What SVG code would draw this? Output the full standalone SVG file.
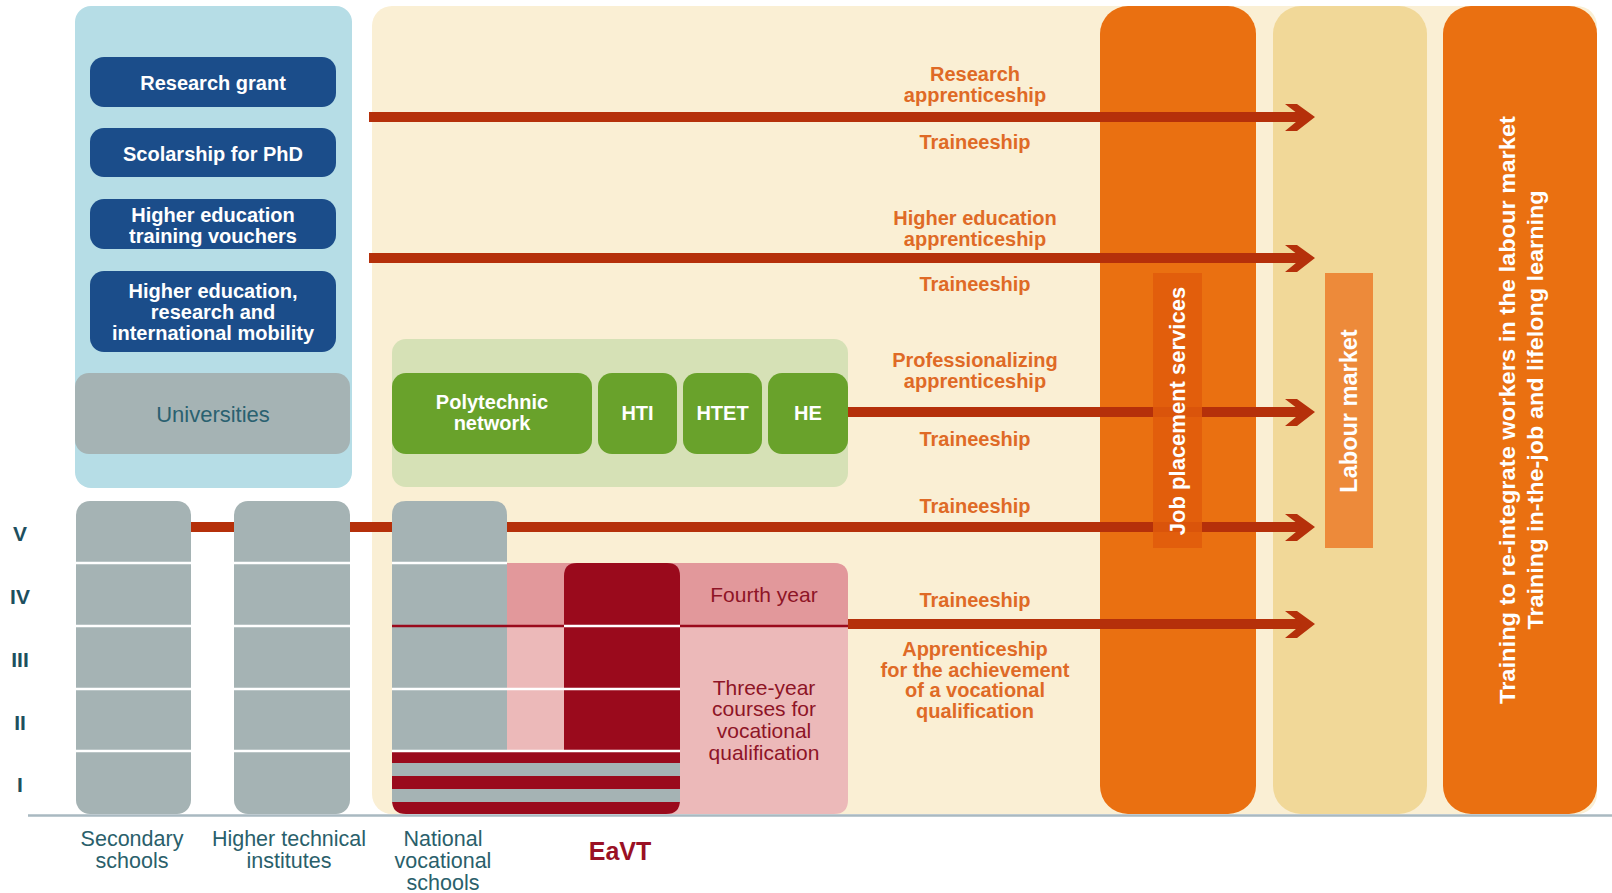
<svg xmlns="http://www.w3.org/2000/svg" width="1612" height="893" viewBox="0 0 1612 893">
<defs>
<style>
.wb{font-family:"Liberation Sans",Arial,sans-serif;font-weight:bold;fill:#ffffff;text-anchor:middle}
.lbl{font-family:"Liberation Sans",Arial,sans-serif;font-weight:bold;fill:#df6a26;font-size:20px;text-anchor:middle}
.col{font-family:"Liberation Sans",Arial,sans-serif;fill:#2a5f6b;font-size:21.5px;text-anchor:middle}
.row{font-family:"Liberation Sans",Arial,sans-serif;font-weight:bold;fill:#1d4f5e;font-size:21px;text-anchor:middle}
.gray{fill:#a5b3b4}
.blue{fill:#1b4d8a}
.green{fill:#69a22b}
.dred{fill:#9a0a1c}
.sep{stroke:#ffffff;stroke-width:2.5}
.arr{stroke:#b5300a;stroke-width:10;fill:none}
.head{fill:#b5300a}
</style>
</defs>
<rect width="1612" height="893" fill="#ffffff"/>

<!-- backgrounds -->
<g id="higher-ed-panel">
<rect x="75" y="6" width="277" height="482" rx="16" fill="#b6dde6"/>
</g>
<g id="vet-panel">
<rect x="372" y="6" width="1225" height="808" rx="20" fill="#faefd4"/>
</g>
<g id="job-placement-column">
<rect x="1100" y="6" width="156" height="808" rx="28" fill="#ea7011"/>
</g>
<g id="labour-market-column">
<rect x="1273" y="6" width="154" height="808" rx="28" fill="#f1d898"/>
</g>
<g id="lifelong-column">
<rect x="1443" y="6" width="154" height="808" rx="28" fill="#ea7011"/>
<text class="wb" font-size="22" transform="translate(1515,410) rotate(-90)" textLength="588" lengthAdjust="spacingAndGlyphs">Training to re-integrate workers in the labour market</text>
<text class="wb" font-size="22" transform="translate(1543,410) rotate(-90)" textLength="439" lengthAdjust="spacingAndGlyphs">Training in-the-job and lifelong learning</text>
</g>

<!-- connectors -->
<g id="connectors">
<line class="arr" x1="369" y1="117" x2="1303" y2="117"/>
<polygon class="head" points="1285,104 1297,104 1315,117 1297,131 1285,131 1302,117"/>
<line class="arr" x1="369" y1="258" x2="1303" y2="258"/>
<polygon class="head" points="1285,245 1297,245 1315,258 1297,272 1285,272 1302,258"/>
<line class="arr" x1="846" y1="412" x2="1303" y2="412"/>
<polygon class="head" points="1285,399 1297,399 1315,412 1297,426 1285,426 1302,412"/>
<line class="arr" x1="188" y1="527" x2="1303" y2="527"/>
<polygon class="head" points="1285,514 1297,514 1315,527 1297,541 1285,541 1302,527"/>
<line class="arr" x1="846" y1="624" x2="1303" y2="624"/>
<polygon class="head" points="1285,611 1297,611 1315,624 1297,638 1285,638 1302,624"/>
</g>

<!-- higher education boxes -->
<g id="research-grant">
<rect class="blue" x="90" y="57" width="246" height="50" rx="14"/>
<text class="wb" font-size="20" x="213" y="90">Research grant</text>
</g>
<g id="scholarship-phd">
<rect class="blue" x="90" y="128" width="246" height="49" rx="14"/>
<text class="wb" font-size="20" x="213" y="161">Scolarship for PhD</text>
</g>
<g id="he-vouchers">
<rect class="blue" x="90" y="199" width="246" height="50" rx="14"/>
<text class="wb" font-size="20" x="213" y="222">Higher education</text>
<text class="wb" font-size="20" x="213" y="243">training vouchers</text>
</g>
<g id="he-mobility">
<rect class="blue" x="90" y="271" width="246" height="81" rx="14"/>
<text class="wb" font-size="20" x="213" y="298">Higher education,</text>
<text class="wb" font-size="20" x="213" y="319">research and</text>
<text class="wb" font-size="20" x="213" y="340">international mobility</text>
</g>
<g id="universities">
<rect class="gray" x="75" y="373" width="275" height="81" rx="14"/>
<text x="213" y="422" font-family="'Liberation Sans',Arial,sans-serif" font-size="22" fill="#2a6170" text-anchor="middle">Universities</text>
</g>

<!-- polytechnic -->
<g id="tertiary-panel">
<rect x="392" y="339" width="456" height="148" rx="14" fill="#d6e1b6"/>
</g>
<g id="polytechnic-network">
<rect class="green" x="392" y="373" width="200" height="81" rx="14"/>
<text class="wb" font-size="20" x="492" y="409">Polytechnic</text>
<text class="wb" font-size="20" x="492" y="430">network</text>
</g>
<g id="hti">
<rect class="green" x="598" y="373" width="79" height="81" rx="14"/>
<text class="wb" font-size="20" x="637.5" y="420">HTI</text>
</g>
<g id="htet">
<rect class="green" x="683" y="373" width="79" height="81" rx="14"/>
<text class="wb" font-size="20" x="722.5" y="420">HTET</text>
</g>
<g id="he">
<rect class="green" x="768" y="373" width="80" height="81" rx="14"/>
<text class="wb" font-size="20" x="808" y="420">HE</text>
</g>

<!-- secondary schools -->
<g id="secondary-schools">
<rect class="gray" x="76" y="501" width="115" height="313" rx="14"/>
<line class="sep" x1="76" y1="563" x2="191" y2="563"/>
<line class="sep" x1="76" y1="626" x2="191" y2="626"/>
<line class="sep" x1="76" y1="689" x2="191" y2="689"/>
<line class="sep" x1="76" y1="751" x2="191" y2="751"/>
<text class="col" x="132" y="846">Secondary</text>
<text class="col" x="132" y="868">schools</text>
</g>
<g id="higher-technical-institutes">
<rect class="gray" x="234" y="501" width="116" height="313" rx="14"/>
<line class="sep" x1="234" y1="563" x2="350" y2="563"/>
<line class="sep" x1="234" y1="626" x2="350" y2="626"/>
<line class="sep" x1="234" y1="689" x2="350" y2="689"/>
<line class="sep" x1="234" y1="751" x2="350" y2="751"/>
<text class="col" x="289" y="846">Higher technical</text>
<text class="col" x="289" y="868">institutes</text>
</g>

<!-- vocational -->
<g id="vocational-qualification">
<path d="M507,563 H834 Q848,563 848,577 V800 Q848,814 834,814 H507 Z" fill="#ecb9b9"/>
<path d="M507,563 H834 Q848,563 848,577 V626 H507 Z" fill="#e2989b"/>
<text x="764" y="602" font-family="'Liberation Sans',Arial,sans-serif" font-size="21" fill="#8e1426" text-anchor="middle">Fourth year</text>
<text x="764" y="695" font-family="'Liberation Sans',Arial,sans-serif" font-size="21" fill="#8e1426" text-anchor="middle">Three-year</text>
<text x="764" y="716" font-family="'Liberation Sans',Arial,sans-serif" font-size="21" fill="#8e1426" text-anchor="middle">courses for</text>
<text x="764" y="738" font-family="'Liberation Sans',Arial,sans-serif" font-size="21" fill="#8e1426" text-anchor="middle">vocational</text>
<text x="764" y="760" font-family="'Liberation Sans',Arial,sans-serif" font-size="21" fill="#8e1426" text-anchor="middle">qualification</text>
</g>
<g id="national-vocational-schools">
<path class="gray" d="M392,751 V515 Q392,501 406,501 H493 Q507,501 507,515 V751 Z"/>
<line class="sep" x1="392" y1="563" x2="507" y2="563"/>
<text class="col" x="443" y="846">National</text>
<text class="col" x="443" y="868">vocational</text>
<text class="col" x="443" y="890">schools</text>
</g>
<g id="eavt">
<path class="dred" d="M564,750 V576 Q564,563 577,563 H667 Q680,563 680,576 V750 Z"/>
<path class="dred" d="M392,752 H680 V800 Q680,814 666,814 H406 Q392,814 392,800 Z"/>
<rect class="gray" x="392" y="763" width="288" height="13"/>
<rect class="gray" x="392" y="789" width="288" height="13"/>
<line x1="392" y1="626" x2="564" y2="626" stroke="#9a0a1c" stroke-width="2.5"/>
<line x1="680" y1="626" x2="848" y2="626" stroke="#9a0a1c" stroke-width="2.5"/>
<line class="sep" x1="564" y1="626" x2="680" y2="626"/>
<line class="sep" x1="392" y1="689" x2="680" y2="689"/>
<line class="sep" x1="392" y1="751" x2="680" y2="751"/>
<text x="620" y="860" font-family="'Liberation Sans',Arial,sans-serif" font-weight="bold" font-size="25" fill="#9a1024" text-anchor="middle">EaVT</text>
</g>

<!-- inner labels -->
<g id="job-placement-services">
<rect x="1153" y="273" width="49" height="275" fill="#e05a0c" opacity="0.85"/>
<text class="wb" font-size="22" transform="translate(1185,411) rotate(-90)">Job placement services</text>
</g>
<g id="labour-market">
<rect x="1325" y="273" width="48" height="275" fill="#ed8a3a"/>
<text class="wb" font-size="23.5" transform="translate(1357,411) rotate(-90)">Labour market</text>
</g>

<!-- arrow labels -->
<g id="arrow-labels">
<text class="lbl" x="975" y="81">Research</text>
<text class="lbl" x="975" y="102">apprenticeship</text>
<text class="lbl" x="975" y="149">Traineeship</text>
<text class="lbl" x="975" y="225">Higher education</text>
<text class="lbl" x="975" y="246">apprenticeship</text>
<text class="lbl" x="975" y="291">Traineeship</text>
<text class="lbl" x="975" y="367">Professionalizing</text>
<text class="lbl" x="975" y="388">apprenticeship</text>
<text class="lbl" x="975" y="446">Traineeship</text>
<text class="lbl" x="975" y="513">Traineeship</text>
<text class="lbl" x="975" y="607">Traineeship</text>
<text class="lbl" x="975" y="656">Apprenticeship</text>
<text class="lbl" x="975" y="677">for the achievement</text>
<text class="lbl" x="975" y="697">of a vocational</text>
<text class="lbl" x="975" y="718">qualification</text>
</g>

<!-- row labels -->
<g id="levels">
<text class="row" x="20" y="541">V</text>
<text class="row" x="20" y="604">IV</text>
<text class="row" x="20" y="667">III</text>
<text class="row" x="20" y="730">II</text>
<text class="row" x="20" y="792">I</text>
</g>

<line x1="28" y1="815.5" x2="1612" y2="815.5" stroke="#a9b9c1" stroke-width="2.5"/>
</svg>
